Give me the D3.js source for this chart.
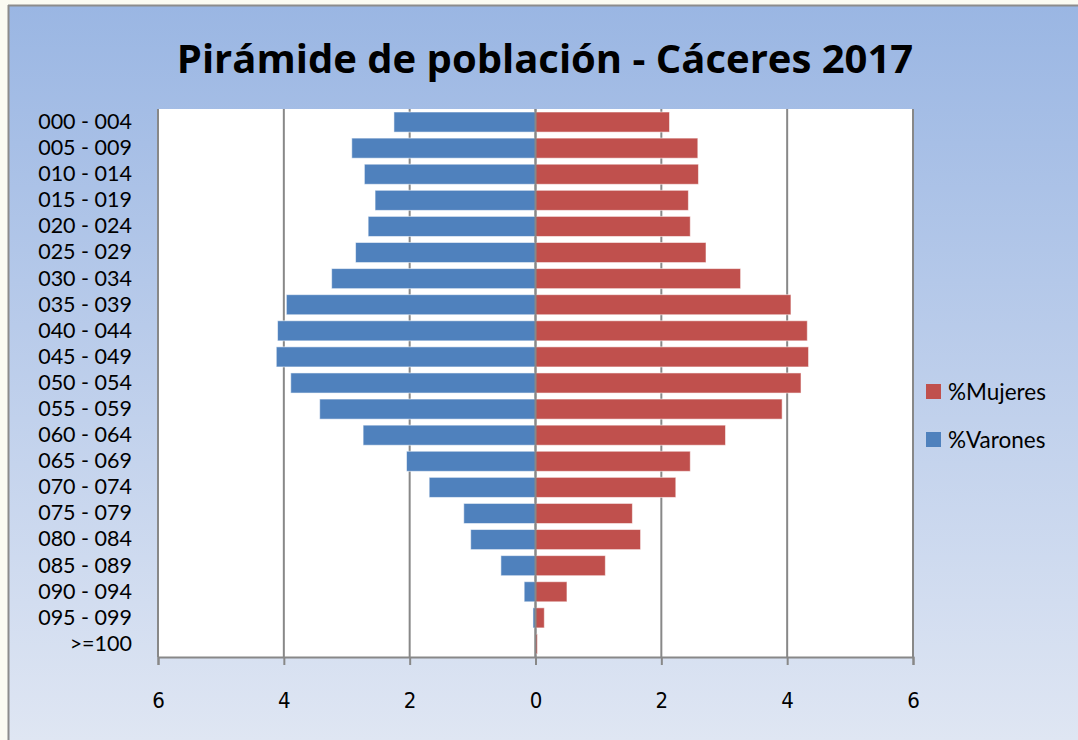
<!DOCTYPE html>
<html>
<head>
<meta charset="utf-8">
<script src="https://cdn.jsdelivr.net/npm/d3@7"></script>
<style>
  body { margin: 0; background: #fbfbf2; }
  svg { display: block; }
</style>
</head>
<body>
<div id="chart"></div>
<script>
// age groups, top to bottom
const categories = ['000 - 004','005 - 009','010 - 014','015 - 019','020 - 024','025 - 029','030 - 034',
  '035 - 039','040 - 044','045 - 049','050 - 054','055 - 059','060 - 064','065 - 069','070 - 074',
  '075 - 079','080 - 084','085 - 089','090 - 094','095 - 099','>=100'];
const varones = [2.25,2.92,2.72,2.55,2.66,2.86,3.24,3.96,4.10,4.12,3.89,3.43,2.74,2.05,1.69,1.14,1.03,0.55,0.18,0.04,0.0];
const mujeres = [2.13,2.58,2.59,2.43,2.46,2.71,3.26,4.06,4.32,4.34,4.22,3.92,3.02,2.46,2.23,1.54,1.67,1.11,0.50,0.14,0.03];
const ticks = [-6,-4,-2,0,2,4,6];
const series = [{name:'%Mujeres', color:'#c0504d'}, {name:'%Varones', color:'#4f81bd'}];

const w = 1078, h = 740;
const plot_left = 158, plot_right = 913, plot_top = 109, plot_bottom = 657;

const svg = d3.select('#chart').append('svg').attr('width', w).attr('height', h);

// background gradient
const defs = svg.append('defs');
const grad = defs.append('linearGradient').attr('id','bg').attr('x1',0).attr('y1',0).attr('x2',0).attr('y2',1);
grad.append('stop').attr('offset','0%').attr('stop-color','#9ab6e3');
grad.append('stop').attr('offset','100%').attr('stop-color','#dfe6f3');

svg.append('rect').attr('x',0).attr('y',0).attr('width',w).attr('height',h).attr('fill','#fbfbf2');
svg.append('rect').attr('x',8).attr('y',5).attr('width',w-8).attr('height',h-5).attr('fill','url(#bg)');
svg.append('line').attr('x1',8.5).attr('x2',8.5).attr('y1',5).attr('y2',h).attr('stroke','#8c8c8c').attr('stroke-width',2);
svg.append('line').attr('x1',8).attr('x2',w).attr('y1',5.5).attr('y2',5.5).attr('stroke','#8c8c8c').attr('stroke-width',2);

// title
svg.append('text')
  .attr('x',545).attr('y',57)
  .attr('text-anchor','middle').attr('dominant-baseline','central')
  .attr('font-family','"Open Sans", sans-serif').attr('font-weight','bold').attr('font-size',40)
  .text('Pirámide de población - Cáceres 2017');

const xScale = d3.scaleLinear().domain([-6,6]).range([plot_left,plot_right]);
const yScale = d3.scaleBand().domain(categories).range([plot_top,plot_bottom]).paddingInner(0.23).paddingOuter(0.115);

// plot area
svg.append('rect').attr('x',plot_left).attr('y',plot_top).attr('width',plot_right-plot_left)
  .attr('height',plot_bottom-plot_top).attr('fill','#fff');

// gridlines
svg.append('g').selectAll('line').data(ticks).enter().append('line')
  .attr('x1',d => xScale(d)).attr('x2',d => xScale(d))
  .attr('y1',plot_top).attr('y2',plot_bottom)
  .attr('stroke','#888').attr('stroke-width',2);

// bars
const bars = svg.append('g');
bars.selectAll('rect.var').data(varones).enter().append('rect')
  .attr('class','var')
  .attr('x',d => xScale(-d)).attr('width',d => xScale(0)-xScale(-d))
  .attr('y',(d,i) => yScale(categories[i])).attr('height',yScale.bandwidth())
  .attr('fill','#4f81bd').attr('stroke','rgba(255,255,255,0.55)').attr('stroke-width',1);
bars.selectAll('rect.muj').data(mujeres).enter().append('rect')
  .attr('class','muj')
  .attr('x',xScale(0)).attr('width',d => xScale(d)-xScale(0))
  .attr('y',(d,i) => yScale(categories[i])).attr('height',yScale.bandwidth())
  .attr('fill','#c0504d').attr('stroke','rgba(255,255,255,0.55)').attr('stroke-width',1);

// zero line on top of the bars
svg.append('line').attr('x1',xScale(0)).attr('x2',xScale(0)).attr('y1',plot_top).attr('y2',plot_bottom)
  .attr('stroke','#888').attr('stroke-width',2);

// x axis
const xAxis = d3.axisBottom(xScale).tickValues(ticks).tickSize(8).tickPadding(27)
  .tickFormat(d => Math.abs(d));
const gx = svg.append('g').attr('transform',`translate(0,${plot_bottom})`).call(xAxis);
gx.select('.domain').attr('stroke','#888').attr('stroke-width',2);
gx.selectAll('.tick line').attr('stroke','#888').attr('stroke-width',2);
gx.selectAll('.tick text').attr('fill','#000')
  .attr('font-family','"DejaVu Sans Condensed", "DejaVu Sans", sans-serif').attr('font-size',22);

// y axis labels
const yAxis = d3.axisLeft(yScale).tickSize(0).tickPadding(26);
const gy = svg.append('g').attr('transform',`translate(${plot_left},0)`).call(yAxis);
gy.select('.domain').remove();
gy.selectAll('.tick text').attr('fill','#000')
  .attr('font-family','Lato, sans-serif').attr('font-size',21.5);

// legend
const legend = svg.append('g').selectAll('g').data(series).enter().append('g')
  .attr('transform',(d,i) => `translate(926,${384 + i*48})`);
legend.append('rect').attr('width',15).attr('height',15).attr('fill',d => d.color);
legend.append('text').attr('x',22).attr('y',7.5).attr('dominant-baseline','central')
  .attr('font-family','Lato, sans-serif').attr('font-size',22.5)
  .text(d => d.name);
</script>
</body>
</html>
